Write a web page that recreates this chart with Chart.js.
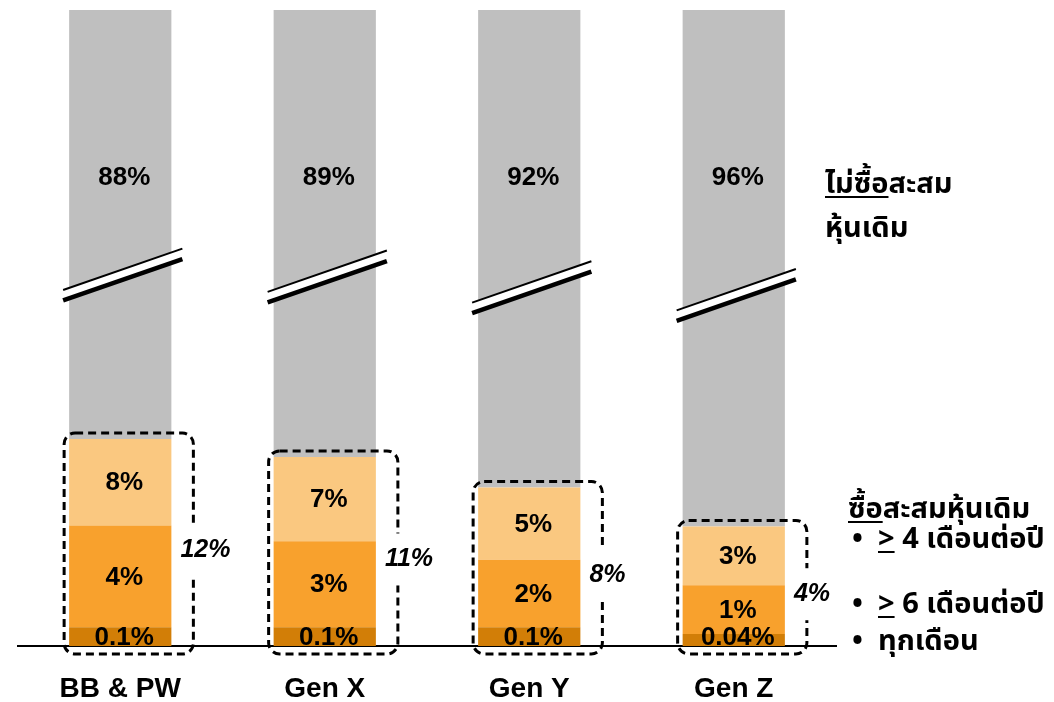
<!DOCTYPE html>
<html lang="th">
<head>
<meta charset="utf-8">
<title>การซื้อสะสมหุ้นเดิม แยกตามรุ่น</title>
<script src="https://cdn.jsdelivr.net/npm/chart.js@4.4.1/dist/chart.umd.min.js"></script>
<style>
  html, body { margin: 0; padding: 0; background: #ffffff; }
  #wrap { width: 1054px; height: 702px; }
</style>
</head>
<body>
<div id="wrap"><canvas id="chart" width="1054" height="702"></canvas></div>
<script>
// Generations shown on the x axis
const CATEGORIES = ['BB & PW', 'Gen X', 'Gen Y', 'Gen Z'];
// Share of each generation (%), stacked from the bottom up
const MONTHLY = [0.1, 0.1, 0.1, 0.04];   // ทุกเดือน
const OVER_6_MONTHS = [4, 3, 2, 1];      // >= 6 เดือนต่อปี
const OVER_4_MONTHS = [8, 7, 5, 3];      // >= 4 เดือนต่อปี
const NOT_BUYING = [88, 89, 92, 96];     // ไม่ซื้อสะสมหุ้นเดิม
// Printed totals of the three buying groups
const BUYING_TOTAL = [12, 11, 8, 4];

const COLORS = {
  monthly: '#D27E07',
  over6: '#F8A12D',
  over4: '#FAC880',
  none: '#BFBFBF'
};
const LABEL_FONT = '"Liberation Sans", Arial, sans-serif';
const THAI_FONT = 'Tahoma, "Leelawadee UI", "Noto Sans Thai", "Noto Sans Thai UI", "Loma", "Garuda", "Noto Sans", sans-serif';

// Broken value axis: a square-root style curve below the break, then a
// compressed linear stretch above it up to the axis maximum.
class BrokenPowerScale extends Chart.LinearScale {
  _fraction(v) {
    const o = this.options;
    const b = o.breakValue, share = o.lowerShare, p = o.exponent;
    if (v <= 0) return 0;
    if (v <= b) return share * Math.pow(v / b, p);
    return share + (1 - share) * (v - b) / (this.max - b);
  }
  getPixelForValue(value) {
    return this.getPixelForDecimal(this._fraction(value));
  }
  getValueForPixel(pixel) {
    const o = this.options;
    const d = this.getDecimalForPixel(pixel);
    if (d <= 0) return 0;
    if (d <= o.lowerShare) return o.breakValue * Math.pow(d / o.lowerShare, 1 / o.exponent);
    return o.breakValue + (d - o.lowerShare) / (1 - o.lowerShare) * (this.max - o.breakValue);
  }
}
BrokenPowerScale.id = 'brokenPower';
BrokenPowerScale.defaults = Chart.LinearScale.defaults;
Chart.register(BrokenPowerScale);

function fmt(v) { return v + '%'; }

// Segment labels, break symbols, dashed group frames and side notes
const decorations = {
  id: 'decorations',
  afterDatasetsDraw(chart, args, opts) {
    const ctx = chart.ctx;
    const y = chart.scales.y;
    const metas = [0, 1, 2, 3].map(i => chart.getDatasetMeta(i));
    const base = y.getPixelForValue(0);

    ctx.save();
    CATEGORIES.forEach((c, j) => {
      const top = metas[3].data[j];
      const w = top.width;
      const left = top.x - w / 2, right = top.x + w / 2;

      // break symbol across the grey bar
      const yc = y.getPixelForValue(opts.breakAt[j]);
      const x0 = left - 6, x1 = right + 11, cx = (x0 + x1) / 2;
      const slope = -0.347;
      const yy = (x, off) => yc + off + slope * (x - cx);
      ctx.fillStyle = '#ffffff';
      ctx.beginPath();
      ctx.moveTo(x0, yy(x0, -5));
      ctx.lineTo(x1, yy(x1, -5));
      ctx.lineTo(x1, yy(x1, 4));
      ctx.lineTo(x0, yy(x0, 4));
      ctx.closePath();
      ctx.fill();
      ctx.strokeStyle = '#000000';
      ctx.lineWidth = 2;
      ctx.beginPath();
      ctx.moveTo(x0, yy(x0, -5));
      ctx.lineTo(x1, yy(x1, -5));
      ctx.stroke();
      ctx.lineWidth = 4.5;
      ctx.beginPath();
      ctx.moveTo(x0, yy(x0, 5.5));
      ctx.lineTo(x1, yy(x1, 5.5));
      ctx.stroke();

      // value labels
      ctx.fillStyle = '#000000';
      ctx.font = 'bold 26px ' + LABEL_FONT;
      ctx.textAlign = 'center';
      ctx.textBaseline = 'middle';
      for (let i = 0; i < 3; i++) {
        const el = metas[i].data[j];
        const v = chart.data.datasets[i].data[j];
        let ly = (el.y + el.base) / 2;
        ly = Math.min(ly, base - 9);
        ctx.fillText(fmt(v), el.x + 4, ly + 1);
      }
      ctx.fillText(fmt(chart.data.datasets[3].data[j]), top.x + 4,
                   y.getPixelForValue(opts.topLabelAt));

      // dashed frame round the buying groups
      const lightTop = metas[2].data[j].y;
      const bx0 = left - 5, bx1 = right + 22;
      const by0 = lightTop - 6, by1 = base + 8;
      ctx.strokeStyle = '#000000';
      ctx.lineWidth = 3;
      ctx.setLineDash([8, 5]);
      ctx.beginPath();
      ctx.roundRect(bx0, by0, bx1 - bx0, by1 - by0, 11);
      ctx.stroke();
      ctx.setLineDash([]);

      // total label sitting on the frame's right edge
      const ty = (by0 + by1) / 2 + 7;
      ctx.fillStyle = '#ffffff';
      ctx.fillRect(bx1 - 4, ty - 26, 8, 52);
      ctx.fillStyle = '#000000';
      ctx.font = 'italic bold 25px ' + LABEL_FONT;
      ctx.textAlign = 'left';
      ctx.fillText(fmt(BUYING_TOTAL[j]), bx1 - 13, ty);
    });

    // side notes
    ctx.fillStyle = '#000000';
    ctx.strokeStyle = '#000000';
    ctx.textAlign = 'left';
    ctx.textBaseline = 'alphabetic';
    ctx.font = 'bold 29px ' + THAI_FONT;
    const line = (x, yb, parts) => {
      let cx = x;
      parts.forEach(p => {
        const t = p[0];
        const wdt = ctx.measureText(t).width;
        ctx.fillText(t, cx, yb);
        if (p[1]) {
          ctx.lineWidth = 2;
          ctx.beginPath();
          ctx.moveTo(cx, yb + 4);
          ctx.lineTo(cx + wdt, yb + 4);
          ctx.stroke();
        }
        cx += wdt;
      });
    };
    line(825, 193, [['ไม่ซื้อ', true], ['สะสม', false]]);
    line(825, 237, [['หุ้นเดิม', false]]);
    line(848, 518, [['ซื้อ', true], ['สะสมหุ้นเดิม', false]]);
    line(852, 548, [['•', false]]);
    line(878, 548, [['>', true], [' 4 เดือนต่อปี', false]]);
    line(852, 613, [['•', false]]);
    line(878, 613, [['>', true], [' 6 เดือนต่อปี', false]]);
    line(852, 650, [['•', false]]);
    line(878, 650, [['ทุกเดือน', false]]);
    ctx.restore();
  }
};

const mkSet = (label, data, color) => ({
  label, data, backgroundColor: color, borderWidth: 0,
  barPercentage: 0.5, categoryPercentage: 1.0, clip: 0
});

new Chart(document.getElementById('chart'), {
  type: 'bar',
  data: {
    labels: CATEGORIES,
    datasets: [
      mkSet('ทุกเดือน', MONTHLY, COLORS.monthly),
      mkSet('> 6 เดือนต่อปี', OVER_6_MONTHS, COLORS.over6),
      mkSet('> 4 เดือนต่อปี', OVER_4_MONTHS, COLORS.over4),
      mkSet('ไม่ซื้อสะสมหุ้นเดิม', NOT_BUYING, COLORS.none)
    ]
  },
  options: {
    responsive: false,
    devicePixelRatio: 1,
    animation: false,
    layout: { padding: { left: 18, right: 218, top: 10, bottom: 0 } },
    plugins: {
      legend: { display: false },
      tooltip: { enabled: false },
      decorations: { breakAt: [44.7, 44.3, 42.1, 40.5], topLabelAt: 64.5 }
    },
    scales: {
      x: {
        stacked: true,
        grid: { display: false, drawTicks: false },
        border: { display: true, color: '#000000', width: 2 },
        ticks: {
          color: '#000000',
          padding: 26,
          font: { family: LABEL_FONT, size: 28, weight: 'bold', lineHeight: 1.2 }
        },
        afterFit(scale) { scale.height = 56; }
      },
      y: {
        type: 'brokenPower',
        stacked: true,
        display: false,
        min: 0,
        max: 99.1,
        exponent: 0.5,
        breakValue: 14,
        lowerShare: 0.35
      }
    }
  },
  plugins: [decorations]
});
</script>
</body>
</html>
